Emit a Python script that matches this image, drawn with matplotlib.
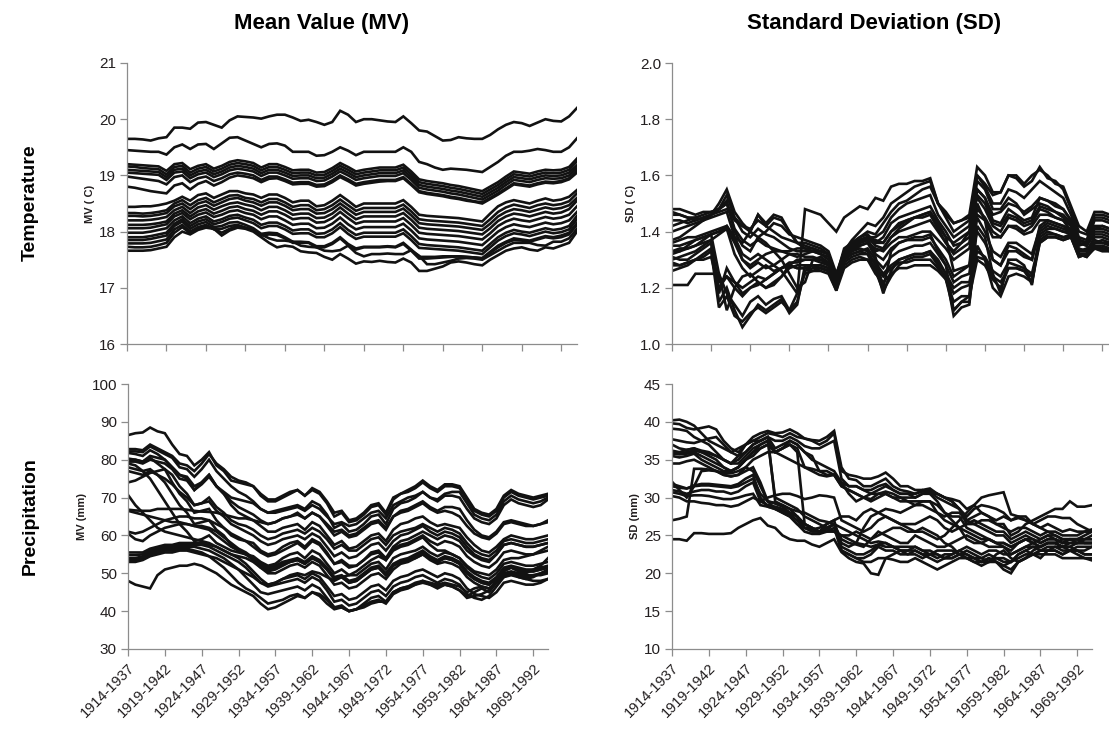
import matplotlib
matplotlib.use("Agg")
import matplotlib.pyplot as plt
import matplotlib.transforms as mtransforms
import numpy as np

plt.rcParams["font.family"] = ["Liberation Sans", "DejaVu Sans"]

# ── data: one list per station, 58 moving 24-year windows (1914-1937 ... 1971-1994) ──

tick_pos = [0, 5, 10, 15, 20, 25, 30, 35, 40, 45, 50, 55]
tick_labels = ["1914-1937", "1919-1942", "1924-1947", "1929-1952", "1934-1957",
               "1939-1962", "1944-1967", "1949-1972", "1954-1977", "1959-1982",
               "1964-1987", "1969-1992"]

# mean temperature (C)
mv_temp = [
    [19.65,19.65,19.64,19.62,19.66,19.68,19.85,19.85,19.83,19.94,19.95,19.9,19.85,19.98,20.05,20.04,20.03,20.01,20.05,20.08,20.08,20.03,19.97,19.99,19.95,19.9,19.95,20.15,20.08,19.95,20.0,20.0,19.98,19.96,19.95,20.05,19.93,19.8,19.78,19.7,19.62,19.63,19.68,19.66,19.65,19.65,19.72,19.82,19.9,19.95,19.93,19.88,19.94,20.0,19.97,19.96,20.05,20.2],
    [19.45,19.44,19.43,19.42,19.42,19.37,19.5,19.55,19.47,19.55,19.56,19.47,19.57,19.67,19.68,19.62,19.56,19.5,19.56,19.57,19.53,19.42,19.42,19.42,19.35,19.36,19.42,19.5,19.44,19.36,19.42,19.42,19.42,19.42,19.42,19.5,19.42,19.24,19.2,19.14,19.1,19.12,19.11,19.1,19.08,19.06,19.15,19.24,19.35,19.42,19.42,19.44,19.47,19.45,19.42,19.42,19.5,19.66],
    [19.2,19.19,19.18,19.17,19.16,19.08,19.2,19.22,19.11,19.17,19.2,19.12,19.17,19.24,19.27,19.25,19.22,19.14,19.2,19.2,19.15,19.09,19.1,19.1,19.05,19.06,19.13,19.22,19.15,19.07,19.1,19.12,19.14,19.14,19.14,19.19,19.07,18.93,18.9,18.88,18.86,18.83,18.81,18.78,18.75,18.72,18.8,18.88,18.98,19.07,19.05,19.03,19.07,19.1,19.09,19.1,19.15,19.3],
    [19.16,19.15,19.13,19.12,19.11,19.02,19.15,19.17,19.05,19.12,19.15,19.07,19.12,19.19,19.22,19.2,19.17,19.09,19.15,19.15,19.1,19.04,19.05,19.05,19.0,19.01,19.08,19.17,19.1,19.02,19.05,19.07,19.09,19.09,19.09,19.14,19.02,18.88,18.85,18.83,18.81,18.78,18.76,18.73,18.7,18.67,18.75,18.83,18.93,19.02,19.0,18.98,19.02,19.05,19.04,19.05,19.1,19.25],
    [19.1,19.09,19.08,19.07,19.06,18.97,19.1,19.12,19.0,19.07,19.1,19.02,19.07,19.14,19.17,19.15,19.12,19.04,19.1,19.1,19.05,18.99,19.0,19.0,18.95,18.96,19.03,19.12,19.05,18.97,19.0,19.02,19.04,19.04,19.04,19.09,18.97,18.83,18.8,18.78,18.76,18.73,18.71,18.68,18.65,18.62,18.7,18.78,18.88,18.97,18.95,18.93,18.97,19.0,18.99,19.0,19.05,19.18],
    [19.05,19.04,19.03,19.02,19.01,18.92,19.05,19.07,18.95,19.02,19.05,18.97,19.02,19.09,19.12,19.1,19.07,18.99,19.05,19.05,19.0,18.94,18.95,18.95,18.9,18.91,18.98,19.07,19.0,18.92,18.95,18.97,18.99,18.99,18.99,19.04,18.92,18.78,18.75,18.73,18.71,18.68,18.66,18.63,18.6,18.57,18.65,18.73,18.83,18.92,18.9,18.88,18.92,18.95,18.94,18.95,19.0,19.13],
    [18.98,18.96,18.94,18.92,18.9,18.84,18.97,19.0,18.88,18.95,18.98,18.9,18.95,19.02,19.05,19.03,19.0,18.92,18.98,18.98,18.93,18.87,18.88,18.88,18.83,18.84,18.91,19.0,18.93,18.85,18.88,18.9,18.92,18.92,18.92,18.97,18.85,18.72,18.69,18.67,18.65,18.62,18.6,18.57,18.54,18.52,18.6,18.68,18.77,18.86,18.84,18.82,18.86,18.89,18.88,18.9,18.95,19.08],
    [18.8,18.78,18.75,18.72,18.7,18.68,18.82,18.86,18.75,18.85,18.9,18.82,18.88,18.96,19.0,18.98,18.95,18.88,18.94,18.95,18.9,18.84,18.85,18.85,18.8,18.81,18.88,18.97,18.9,18.82,18.85,18.87,18.89,18.9,18.9,18.95,18.83,18.7,18.67,18.65,18.63,18.6,18.58,18.55,18.53,18.5,18.58,18.66,18.75,18.84,18.82,18.8,18.84,18.87,18.86,18.88,18.93,19.05],
    [18.44,18.44,18.45,18.45,18.47,18.5,18.55,18.62,18.55,18.65,18.68,18.6,18.66,18.72,18.72,18.68,18.66,18.6,18.66,18.66,18.6,18.52,18.55,18.55,18.45,18.47,18.55,18.65,18.55,18.44,18.5,18.5,18.5,18.5,18.5,18.56,18.44,18.3,18.28,18.27,18.26,18.25,18.24,18.22,18.2,18.18,18.32,18.45,18.52,18.56,18.53,18.5,18.55,18.59,18.55,18.57,18.62,18.74],
    [18.33,18.33,18.32,18.33,18.35,18.38,18.5,18.56,18.47,18.56,18.6,18.52,18.58,18.64,18.65,18.6,18.58,18.52,18.58,18.58,18.52,18.44,18.47,18.47,18.38,18.4,18.47,18.57,18.47,18.37,18.42,18.42,18.42,18.42,18.42,18.48,18.36,18.22,18.2,18.19,18.18,18.17,18.16,18.14,18.12,18.1,18.22,18.35,18.43,18.48,18.45,18.42,18.47,18.5,18.47,18.49,18.54,18.68],
    [18.28,18.28,18.27,18.28,18.3,18.33,18.45,18.5,18.4,18.5,18.54,18.46,18.52,18.58,18.6,18.55,18.52,18.46,18.52,18.52,18.46,18.38,18.4,18.4,18.32,18.33,18.4,18.5,18.4,18.3,18.35,18.35,18.35,18.35,18.35,18.41,18.29,18.15,18.13,18.12,18.11,18.1,18.09,18.07,18.05,18.03,18.14,18.27,18.35,18.4,18.38,18.35,18.39,18.43,18.4,18.42,18.47,18.6],
    [18.2,18.2,18.2,18.21,18.23,18.26,18.38,18.44,18.33,18.43,18.47,18.39,18.45,18.5,18.52,18.48,18.45,18.38,18.44,18.44,18.38,18.3,18.32,18.32,18.24,18.25,18.32,18.43,18.32,18.22,18.27,18.27,18.27,18.27,18.27,18.33,18.21,18.07,18.05,18.04,18.03,18.02,18.01,17.99,17.97,17.95,18.06,18.19,18.27,18.32,18.3,18.27,18.31,18.35,18.32,18.34,18.4,18.55],
    [18.12,18.12,18.12,18.13,18.15,18.18,18.32,18.38,18.27,18.36,18.4,18.32,18.37,18.43,18.45,18.4,18.37,18.3,18.36,18.36,18.3,18.22,18.24,18.24,18.16,18.17,18.24,18.35,18.24,18.14,18.18,18.18,18.18,18.18,18.18,18.24,18.12,17.98,17.96,17.95,17.94,17.93,17.92,17.9,17.88,17.86,17.97,18.1,18.18,18.23,18.2,18.18,18.22,18.26,18.23,18.25,18.3,18.45],
    [18.06,18.06,18.06,18.07,18.1,18.13,18.27,18.33,18.22,18.3,18.34,18.26,18.3,18.36,18.38,18.33,18.3,18.22,18.27,18.27,18.2,18.12,18.14,18.14,18.06,18.07,18.14,18.25,18.13,18.04,18.08,18.08,18.08,18.08,18.08,18.14,18.02,17.88,17.86,17.85,17.84,17.83,17.82,17.8,17.78,17.76,17.88,18.0,18.08,18.13,18.1,18.08,18.12,18.16,18.13,18.15,18.2,18.35],
    [17.98,17.98,17.98,18.0,18.03,18.06,18.2,18.27,18.15,18.23,18.27,18.18,18.22,18.28,18.3,18.25,18.21,18.12,18.16,18.16,18.1,18.02,18.04,18.04,17.96,17.97,18.04,18.15,18.03,17.94,17.98,17.98,17.98,17.98,17.98,18.04,17.92,17.78,17.76,17.75,17.74,17.73,17.72,17.7,17.68,17.66,17.78,17.9,17.98,18.03,18.0,17.98,18.02,18.06,18.03,18.05,18.1,18.28],
    [17.9,17.9,17.9,17.92,17.95,17.98,18.14,18.22,18.1,18.18,18.22,18.13,18.17,18.23,18.25,18.2,18.15,18.06,18.1,18.1,18.04,17.96,17.97,17.97,17.9,17.9,17.97,18.08,17.96,17.87,17.91,17.91,17.91,17.91,17.91,17.97,17.85,17.71,17.7,17.69,17.68,17.67,17.66,17.64,17.62,17.6,17.72,17.84,17.92,17.97,17.95,17.92,17.96,18.0,17.97,17.99,18.04,18.22],
    [17.85,17.85,17.85,17.87,17.9,17.93,18.1,18.18,18.05,18.13,18.17,18.08,18.1,18.16,18.17,18.12,18.06,17.96,17.98,17.97,17.9,17.82,17.82,17.81,17.74,17.74,17.8,17.9,17.78,17.7,17.73,17.73,17.73,17.74,17.73,17.8,17.68,17.55,17.55,17.55,17.56,17.56,17.56,17.55,17.54,17.53,17.64,17.75,17.82,17.88,17.86,17.84,17.88,17.92,17.9,17.93,17.98,18.15],
    [17.79,17.79,17.79,17.8,17.83,17.86,18.04,18.12,18.0,18.08,18.12,18.04,18.05,18.1,18.12,18.07,18.02,17.93,17.95,17.94,17.88,17.8,17.8,17.8,17.72,17.72,17.78,17.88,17.76,17.68,17.72,17.72,17.72,17.73,17.72,17.78,17.66,17.52,17.52,17.53,17.54,17.55,17.56,17.55,17.54,17.52,17.62,17.72,17.8,17.85,17.84,17.82,17.86,17.9,17.88,17.9,17.95,18.12],
    [17.73,17.72,17.72,17.73,17.76,17.8,17.98,18.08,17.97,18.05,18.1,18.05,17.98,18.05,18.1,18.07,18.03,17.95,17.88,17.84,17.84,17.82,17.75,17.73,17.72,17.66,17.65,17.67,17.75,17.62,17.56,17.6,17.6,17.61,17.6,17.6,17.67,17.57,17.42,17.42,17.45,17.48,17.52,17.53,17.52,17.5,17.58,17.66,17.74,17.8,17.8,17.8,17.76,17.75,17.82,17.82,17.88,18.05],
    [17.66,17.66,17.66,17.67,17.7,17.73,17.9,18.0,17.95,18.03,18.07,18.05,17.93,18.02,18.07,18.05,18.0,17.9,17.8,17.72,17.75,17.73,17.65,17.63,17.62,17.55,17.5,17.6,17.52,17.43,17.47,17.46,17.48,17.46,17.45,17.52,17.45,17.3,17.3,17.34,17.38,17.45,17.47,17.45,17.42,17.4,17.5,17.58,17.66,17.7,17.72,17.68,17.66,17.72,17.7,17.75,17.8,18.0],
]

# standard deviation of temperature (C)
sd_temp = [
    [1.48,1.48,1.47,1.46,1.47,1.47,1.48,1.50,1.44,1.42,1.41,1.44,1.42,1.40,1.38,1.37,1.36,1.34,1.33,1.32,1.30,1.22,1.33,1.37,1.40,1.43,1.42,1.45,1.50,1.52,1.54,1.56,1.57,1.58,1.50,1.45,1.40,1.42,1.44,1.60,1.57,1.53,1.54,1.60,1.60,1.57,1.60,1.62,1.60,1.57,1.56,1.49,1.42,1.40,1.47,1.47,1.46,1.45],
    [1.47,1.46,1.45,1.45,1.44,1.46,1.50,1.55,1.47,1.43,1.40,1.46,1.43,1.46,1.45,1.40,1.36,1.36,1.35,1.34,1.32,1.24,1.34,1.36,1.38,1.40,1.39,1.43,1.47,1.50,1.51,1.53,1.55,1.56,1.50,1.47,1.43,1.44,1.46,1.63,1.60,1.54,1.54,1.60,1.59,1.56,1.58,1.63,1.59,1.58,1.55,1.48,1.40,1.39,1.46,1.46,1.45,1.44],
    [1.44,1.44,1.43,1.44,1.45,1.46,1.48,1.51,1.40,1.35,1.33,1.38,1.40,1.43,1.42,1.39,1.38,1.37,1.36,1.35,1.33,1.25,1.33,1.36,1.37,1.38,1.36,1.38,1.43,1.45,1.46,1.47,1.48,1.49,1.44,1.40,1.35,1.36,1.38,1.55,1.52,1.46,1.47,1.50,1.49,1.47,1.49,1.52,1.51,1.49,1.48,1.44,1.37,1.36,1.44,1.44,1.43,1.43],
    [1.37,1.38,1.40,1.42,1.44,1.45,1.46,1.47,1.38,1.32,1.30,1.32,1.30,1.28,1.26,1.22,1.18,1.48,1.47,1.46,1.43,1.40,1.45,1.47,1.49,1.48,1.52,1.51,1.56,1.57,1.57,1.58,1.58,1.59,1.50,1.46,1.43,1.44,1.45,1.52,1.48,1.42,1.40,1.45,1.44,1.42,1.43,1.48,1.47,1.45,1.44,1.40,1.35,1.36,1.41,1.41,1.40,1.40],
    [1.36,1.37,1.38,1.38,1.39,1.40,1.41,1.42,1.37,1.30,1.27,1.29,1.27,1.28,1.30,1.32,1.31,1.32,1.33,1.33,1.32,1.23,1.32,1.35,1.36,1.37,1.33,1.34,1.38,1.40,1.41,1.42,1.43,1.44,1.40,1.36,1.33,1.36,1.40,1.58,1.55,1.48,1.48,1.52,1.50,1.46,1.48,1.50,1.49,1.47,1.45,1.42,1.36,1.35,1.40,1.40,1.39,1.38],
    [1.33,1.33,1.34,1.35,1.37,1.39,1.25,1.18,1.14,1.10,1.15,1.17,1.14,1.16,1.17,1.12,1.15,1.26,1.27,1.27,1.26,1.20,1.30,1.34,1.35,1.36,1.31,1.20,1.33,1.36,1.37,1.38,1.38,1.39,1.33,1.28,1.12,1.15,1.17,1.50,1.44,1.30,1.28,1.35,1.34,1.32,1.30,1.42,1.44,1.43,1.42,1.40,1.33,1.33,1.36,1.37,1.36,1.36],
    [1.31,1.30,1.30,1.32,1.34,1.36,1.15,1.20,1.12,1.06,1.10,1.14,1.12,1.14,1.16,1.11,1.14,1.28,1.28,1.28,1.27,1.21,1.31,1.33,1.34,1.33,1.28,1.18,1.26,1.30,1.31,1.32,1.32,1.33,1.30,1.25,1.10,1.13,1.14,1.42,1.38,1.25,1.18,1.30,1.30,1.28,1.21,1.39,1.41,1.41,1.40,1.39,1.32,1.31,1.35,1.35,1.34,1.34],
    [1.29,1.28,1.29,1.30,1.31,1.33,1.13,1.17,1.10,1.08,1.11,1.13,1.11,1.13,1.15,1.12,1.18,1.25,1.26,1.27,1.26,1.19,1.30,1.32,1.33,1.32,1.26,1.19,1.24,1.28,1.30,1.31,1.31,1.32,1.28,1.23,1.12,1.15,1.15,1.35,1.30,1.20,1.17,1.24,1.25,1.24,1.22,1.38,1.40,1.39,1.38,1.38,1.31,1.32,1.34,1.34,1.33,1.33],
    [1.21,1.21,1.21,1.25,1.25,1.25,1.25,1.12,1.20,1.24,1.25,1.22,1.20,1.21,1.24,1.28,1.27,1.27,1.28,1.28,1.27,1.20,1.28,1.30,1.31,1.30,1.25,1.22,1.25,1.27,1.27,1.28,1.28,1.28,1.26,1.23,1.15,1.17,1.17,1.30,1.28,1.23,1.20,1.27,1.27,1.26,1.22,1.36,1.38,1.38,1.37,1.38,1.32,1.31,1.34,1.33,1.33,1.33],
    [1.30,1.31,1.32,1.33,1.35,1.37,1.39,1.41,1.36,1.30,1.28,1.30,1.32,1.33,1.33,1.32,1.32,1.31,1.31,1.30,1.29,1.22,1.30,1.33,1.35,1.36,1.34,1.33,1.36,1.38,1.38,1.39,1.40,1.40,1.37,1.34,1.30,1.32,1.34,1.46,1.44,1.38,1.38,1.42,1.41,1.39,1.40,1.44,1.44,1.43,1.42,1.41,1.34,1.33,1.38,1.38,1.37,1.37],
    [1.35,1.35,1.36,1.37,1.38,1.39,1.40,1.41,1.32,1.27,1.24,1.26,1.28,1.26,1.27,1.28,1.30,1.30,1.30,1.29,1.28,1.22,1.31,1.34,1.36,1.37,1.32,1.30,1.34,1.36,1.37,1.37,1.37,1.38,1.34,1.30,1.24,1.26,1.28,1.40,1.36,1.30,1.28,1.33,1.33,1.31,1.30,1.40,1.42,1.41,1.40,1.40,1.33,1.34,1.36,1.36,1.35,1.35],
    [1.26,1.27,1.28,1.30,1.32,1.34,1.22,1.24,1.20,1.17,1.20,1.22,1.20,1.22,1.24,1.27,1.28,1.28,1.28,1.27,1.26,1.21,1.29,1.31,1.32,1.32,1.29,1.25,1.28,1.30,1.31,1.32,1.32,1.33,1.29,1.25,1.20,1.22,1.22,1.33,1.31,1.26,1.24,1.29,1.28,1.27,1.25,1.37,1.39,1.39,1.38,1.39,1.32,1.32,1.35,1.34,1.34,1.34],
    [1.46,1.46,1.45,1.44,1.45,1.46,1.47,1.48,1.45,1.42,1.40,1.38,1.36,1.33,1.30,1.25,1.20,1.22,1.30,1.31,1.29,1.23,1.32,1.35,1.37,1.38,1.35,1.34,1.38,1.41,1.43,1.45,1.46,1.47,1.42,1.38,1.36,1.38,1.40,1.48,1.45,1.40,1.38,1.42,1.42,1.40,1.42,1.46,1.46,1.45,1.44,1.42,1.36,1.35,1.39,1.39,1.38,1.38],
    [1.32,1.33,1.35,1.37,1.38,1.39,1.40,1.42,1.38,1.36,1.40,1.46,1.42,1.45,1.44,1.40,1.36,1.35,1.34,1.33,1.32,1.23,1.32,1.35,1.37,1.38,1.37,1.36,1.40,1.43,1.44,1.45,1.46,1.47,1.43,1.38,1.26,1.27,1.28,1.55,1.52,1.44,1.43,1.48,1.46,1.44,1.45,1.52,1.51,1.50,1.48,1.44,1.37,1.36,1.41,1.42,1.41,1.41],
    [1.28,1.28,1.29,1.30,1.30,1.31,1.20,1.24,1.22,1.18,1.20,1.21,1.23,1.25,1.27,1.28,1.27,1.27,1.26,1.26,1.25,1.19,1.27,1.29,1.30,1.30,1.27,1.24,1.27,1.29,1.29,1.30,1.30,1.30,1.27,1.24,1.18,1.20,1.21,1.31,1.30,1.24,1.22,1.27,1.27,1.26,1.24,1.36,1.38,1.38,1.37,1.38,1.31,1.32,1.34,1.34,1.33,1.33],
    [1.40,1.41,1.42,1.43,1.44,1.46,1.48,1.53,1.45,1.40,1.38,1.41,1.39,1.38,1.36,1.34,1.33,1.33,1.33,1.32,1.31,1.21,1.31,1.34,1.36,1.38,1.38,1.40,1.45,1.48,1.50,1.51,1.52,1.53,1.46,1.42,1.38,1.40,1.42,1.60,1.56,1.50,1.50,1.55,1.54,1.52,1.55,1.58,1.56,1.54,1.52,1.46,1.38,1.37,1.45,1.45,1.44,1.43],
    [1.33,1.34,1.34,1.35,1.36,1.37,1.18,1.27,1.22,1.20,1.22,1.24,1.23,1.25,1.27,1.29,1.29,1.30,1.30,1.30,1.28,1.22,1.30,1.32,1.33,1.34,1.30,1.27,1.31,1.33,1.34,1.35,1.35,1.36,1.32,1.28,1.22,1.24,1.25,1.45,1.40,1.33,1.31,1.36,1.36,1.34,1.32,1.41,1.43,1.42,1.41,1.40,1.33,1.33,1.37,1.36,1.36,1.35],
    [1.42,1.43,1.44,1.45,1.46,1.47,1.48,1.50,1.41,1.37,1.35,1.37,1.35,1.34,1.33,1.33,1.34,1.34,1.34,1.33,1.32,1.24,1.33,1.36,1.38,1.39,1.36,1.36,1.40,1.42,1.44,1.45,1.45,1.46,1.41,1.36,1.32,1.34,1.36,1.53,1.50,1.43,1.42,1.46,1.45,1.43,1.44,1.49,1.48,1.47,1.46,1.43,1.37,1.36,1.42,1.42,1.41,1.40],
]

# mean precipitation (mm)
mv_prec = [
    [86.5,87,87.2,88.5,87.5,87,84,81.5,81,78.5,80,82,78.5,77,74.5,74,73.5,73,71,69.5,69.5,70.5,71.5,72,70.5,72.5,71.5,69,66,66.5,64,64.5,66,68,68.5,66,70,71,72,73,74.5,73,72,73.5,73.5,73,70,67,66,65.5,67,70.5,72,71,70.5,70,70.5,71],
    [82.8,82.8,82.5,84,83,82,81,79,78.5,77,79,81.5,79,77.5,75.5,74.5,74,73,70.5,69,69,70,71,72,70.5,72,71,68.5,65,66,63.5,64,65.5,67.5,68,65.5,69.5,71,71.5,72.5,74,72.5,71.5,73,73,72.5,69.5,66.5,65.5,65,66.5,70,71.5,70.5,70,69.5,70,70.5],
    [82.2,82.2,82,83.5,82.5,81.5,80.5,78,77.5,75.5,77.5,80,77,75,73,71.5,70.5,69,67,66,66.5,67,67.5,68,67,69,68,65.5,62,63,61,61.5,63,65,65.5,63,67,68.5,69,70,71.5,70,69,70.5,70.5,70,67,64.5,63.5,63,64.5,68,69.5,68.5,68,67.5,68,69.5],
    [81.8,81.5,81,82.5,81.5,80,78,76,75,72,74,76,73,71,69,67.5,66.5,65.5,64,63,63.5,64.5,65,66,64.5,66,65,62.5,60,61,59.5,60,61.5,63,63.5,61.5,65,66.5,67,68,69,67.5,66.5,67.5,67.5,67,64,61.5,60,59.5,61,63.5,64,63.5,63,62.5,63,64],
    [80.3,80,79.5,80.5,79,77.5,74,71,69,66,66.5,67,64,62,60,59,58.5,58,56,55,55.5,57,58,58.5,57,59,58,55.5,52.5,53.5,52,52,53.5,55.5,56,54,57,58.5,59,60,61,60,59,60,59.5,58.5,56,54.5,53.5,53,55,57.5,58,57.5,57,57,57.5,58],
    [80,80,79.5,81,80.5,80,78,76,75.5,73,74,76,73,71,68,66,65,64,62.5,61,61,62,62.5,63,61.5,63.5,62.5,60,57.5,58.5,56.5,57,58.5,60,60.5,58.5,61.5,63,63.5,64.5,65,63.5,62.5,63,62.5,62,59.5,57.5,56,55.5,57,59,60,59.5,59,59,59.5,60],
    [79.5,79.5,79,80,79.5,79,77.5,75,74.5,72,73.5,75.5,73,71.5,70,69.5,69,68.5,67,66,66,66.5,67,67.5,66.5,68,67,65,63,63.5,62.5,63,64.5,66,66.5,64.5,68,69,70,70.5,71.5,70,69.5,71,71.5,71.5,68.5,65.5,64.5,64,65.5,69,70.5,69.5,69,68.5,69,70],
    [79,78.5,77,75,72,69,66,63,61,58.5,59,60,58,57,56,55.5,55,54.5,53,52,52.5,54,55,55.5,54,56,55,52.5,50,51,49.5,49.5,51,52.5,53,51,54,55,55.5,56,57,55.5,54.5,55.5,55,54,51.5,50,49,48.5,50,52.5,53,52.5,52,52,52.5,53],
    [78,77.5,77,77.5,76,74,71,68,66,63,63.5,64,61.5,60,57.5,56,55,53.5,51.5,50,50,51,52,52.5,51.5,53,52,49.5,47,47.5,46,46.5,48,49.5,50,48.5,51,52.5,53,54,55,53.5,52.5,53,52.5,51.5,49,47.5,46.5,46,47.5,50,50.5,50,49.5,49.5,49.5,50],
    [77,76.5,76,77,76,75,73.5,71.5,70,68,68.5,70,67.5,66,64,63,62.5,61.5,60,59,59.5,60.5,61,61.5,60.5,62,61,59,56.5,57.5,56,56,57.5,59,59.5,57.5,60,61,61.5,62,63,62,61,62,61.5,60.5,58,56,55,54.5,56,58.5,59,58.5,58,58,58.5,59],
    [74,74.5,75.5,76.5,77,77.5,76,73,71,68,68.5,69,66.5,65,63,62,61,60,58.5,57.5,58,59,59.5,60,59,60.5,59.5,57,54.5,55.5,54,54.5,56,57.5,58,56,58.5,60,60.5,61.5,62.5,61,60,61,60.5,59.5,57,55,54,53.5,55,57.5,58,57.5,57,57,57.5,58],
    [70.7,68,66,64,62,61,60.5,60,59.5,59,58.5,58,57,56,55,54.5,54,53,51.5,50.5,51,52,53,53.5,52.5,54,53,51,48.5,49,47.5,48,49.5,51,51.5,49.5,52,53,53.5,54,55,54,53,54,53.5,52.5,50,48.5,47.5,47,48.5,51,51.5,51,50.5,50.5,51,51.5],
    [66.8,66.6,66.5,66.5,67,67,67,67,66.8,66.5,66.3,66.2,66,65.5,65,64.5,64.5,64,63.5,63,63.5,64.5,65,65.5,64.5,66,65,63,61,61.5,60,60.5,62,63.5,64,62,65,66,66.5,67.5,68.5,67,66,66.5,66,65,62.5,60.5,59.5,59,60.5,63,63.5,63,62.5,62.5,63,63.5],
    [66.5,66,65.5,65,64.5,64,63.5,63.5,63,62.5,62,61.5,60,58.5,57,56,55,54,52.5,51.5,52,53,53.5,54,53,54.5,53.5,51.5,49,49.5,48,48.5,50,51.5,52,50,52.5,53.5,54,55,56,54.5,53.5,54.5,54,53,50.5,49,48,47.5,49,51.5,52,51.5,51,51,51.5,52],
    [61,60.5,61,62,63,64,64.5,65,65,64.5,64.5,64,63,62,60.5,59.5,58.5,57,55.5,54.5,55,56,57,58,56.5,58.5,57.5,55,52.5,53,51.5,52,53.5,55,55.5,53.5,56.5,57.5,58,59,60,58.5,57.5,58.5,58,57,54.5,53,52,51.5,53,55.5,56,55.5,55,55,55.5,56],
    [60.5,59,58.5,60,61,62,62.5,63,63,62.5,62.5,62,61,59.5,58,56.5,55.5,54,52,51,51.5,52.5,53,53.5,52.5,54,53,51,48.5,49,47.5,48,49.5,51,51.5,49.5,52,53,53.5,54.5,55.5,54,53,54,53.5,52.5,50,48.5,47.5,47,48.5,51,51.5,51,50.5,50.5,51,51.5],
    [55.5,55.5,55.5,56.5,57,57.5,57.5,58,58,58,58,57.5,57,56,55,54,52.5,50.5,48.5,47,47.5,48.5,49,49.5,48.5,50,49,46.5,44,44.5,43,43.5,45,46.5,47,45.5,48,49,49.5,50.5,51,50,49,50,49.5,48.5,46,44.5,44,43.5,45,47.5,48,47.5,47,47,47.5,48.5],
    [54.8,54.8,55,56,56.5,57,57,57.5,57.5,57.5,57.5,57,56,55,54,53,51.5,49.5,47.5,46.5,47,47.5,48,48.5,47.5,49,48,45.5,42.5,43,41.5,42,43.5,45,45.5,44,46.5,47.5,48,49,49.5,48.5,47.5,48.5,48,47,44.5,43.5,43,44,46.5,49,50,49,48.5,49,50,51],
    [54,54,54.5,55.5,56,56.5,56.5,57,57,57,56.5,56,55,54,52.5,51,49,47,45,44.5,45,45.5,46,46.5,45.5,47,46,43.5,41,41.5,40,40.5,42,43.5,44,42.5,45,46,46.5,47.5,48,47,46,47,46.5,45.5,43.5,44,44.5,45.5,48,50.5,51.5,50.5,50,51,52,54],
    [53.5,53.5,54,55,55.5,56,56,56.5,56.5,56,55.5,54.5,53,51.5,49.5,47.5,46,45,43.5,42,42.5,43,44,44.5,43.5,45,44,42,40.5,41,40,40.5,41.5,42.5,43,42,44.5,45.5,46,47,47.5,47,46.5,47,46.5,45.5,44,45,46,45,47.5,49.5,50,49.5,49,49.5,50,50.5],
    [53,53,53.5,54.5,55,55.5,55.5,56,56,55.5,55,54.5,54,53,52,51,50,49,47.5,47,47.5,48.5,49.5,50,49.5,50.5,50,49,48,49,49.5,50.5,52,53.5,54.5,53.5,56,57,57.5,58.5,59.5,57.5,56,56,55,54,52,50.5,50,49.5,51,53.5,54,54,54.5,55,56,57],
    [48,47,46.5,46,49.5,51,51.5,52,52,52.5,52,51,50,48.5,47,46,45,44,42,40.5,41,42,43,44,43.5,45,44.5,43,41,41,40,40.5,41,42,42.5,42.5,45,46,46.5,47,48,47.5,47,47.5,47,46.5,45,46,46.5,46,47.5,49,49.5,49,48.5,48,48,48.5],
]

# standard deviation of precipitation (mm)
sd_prec = [
    [40.2,40.3,40,39.5,38.5,37.5,37,36.5,36,36.5,37,37.5,38,38.5,38.3,38,38.5,38,37.8,37.5,37,37.5,38.5,33.5,33,32.8,32.5,32.5,32.8,33.3,32.5,31.5,31.5,31,31,30.5,30.5,30,29.5,28.5,27.5,28.5,29,28.8,28.5,28,27,27.5,27.5,26.5,26,25.5,25.5,25,25,25,25.5,25.5],
    [39.8,39.7,39.2,39,39.2,39.4,39,37.5,36.5,36,37,38,38.5,38.8,38.5,38.6,39,38.5,37.8,37.6,37.5,38,38.8,34,32.5,32.3,31.5,31.5,32,32.5,31.5,31,30.8,30.5,31,31.2,30.5,30,29.8,29.5,28.5,29,28,27.5,27,27.5,27,27.3,27,26.5,26,26.5,26,25.5,25.8,25.5,25.5,25.8],
    [39.1,39,38.8,38,37.5,37,36,35,34.5,35.5,37,37.5,37.5,38,37.5,37.5,38,37.5,36.8,36.5,36.5,37,37.5,32.5,31.5,31.5,31,30.5,31,31.5,31,30.5,30.5,30,30.5,30.8,30,29.5,29,28.5,26.5,27,26.5,26,25.5,25.5,24.5,25,25.5,25,24.5,25,24.5,24,24.5,24.5,24.5,25],
    [37.7,37.5,37.3,37.2,37.5,37.8,38,37,36,35.5,36,37,37.5,38,36.5,37,37.5,37,36,35.5,33.5,33,33,32,31.5,31.5,31,31,31.5,31.8,31,30.5,30.5,30.5,30.8,31,30.5,30,29.5,28.5,27,27.5,28,27.5,26.5,26,25.5,26,26,25.5,25,25.5,25,24.5,24.5,24.5,25,25.5],
    [37,36.5,36.3,36.5,36,35.5,35,34,33.5,34,35,36,36.5,37,36,36.5,37.5,37,36,35,34.5,34,33.5,32,30.5,29.5,30,30.5,30.5,30.5,30,29.5,29.5,29.5,29.5,29.5,28,27,26.5,26,24.5,24,24,23.5,23.5,23.5,22.5,23,23.5,23.5,23,23.5,23.5,23.5,23,23.5,23.5,23.5],
    [36.2,36,36.3,36.5,36.2,36,35.5,35,34.5,34.5,35.5,36.5,37,37.5,36,36.5,37,36.5,34,33.5,33,32.8,33,31.5,31,30.5,30,29.8,30.5,30.8,30.5,30,30,30,30.5,30.5,29.5,28,27.5,27.5,26,25.5,25,24.5,24,24,23.5,24,24.5,24,23.5,24,24,23.5,24,24,24,24],
    [36,35.8,36,36.2,36,35.8,35.5,35,34.5,35,36,37,37.5,38,29.5,29,28.5,28.2,28,27.5,27,26.8,26.5,26,25.5,25,24.5,24,24.2,24,23.5,23.5,23.5,23.5,23,23,22.5,22,22.5,23,22.5,22,22,21.5,22,22,21.5,22.5,23,22.5,22,23,23,22.5,23,23,22.5,22.5],
    [35.8,35.7,35.8,36,35.5,35,34.5,34,33.5,34,35,36,37,37.5,30,29.5,29,28.5,27.5,27,26.5,26,25.5,25,25,25.5,25,24.5,25,25.5,26,26,25.5,25.5,26,25.5,25,24,23.5,22.5,22,22,21.5,21.5,22.5,23,22,21.5,22,23,23.5,24,24,23.5,23.5,24,24,24],
    [35.5,35.3,35.5,35.8,35,34.5,34,33.5,33.5,34,35,35.5,36.5,37,36,36.5,37,36,26.5,26,25.5,25.5,25.5,25,24.5,24,23.8,23.5,23.8,24,23.5,23,23,23,22.5,22.5,22.5,22,22,22.5,22,21.5,21.5,22,21.5,21,21.5,22,22.5,22.5,23,23,23,22.5,23,23,23,23.5],
    [34.5,34.5,34.8,35,34.5,34,33.5,33,32.8,33,34,35,35.5,36,36,35.5,35,34.5,34,33.8,33.5,33.5,33,31.5,31,30.5,30,29.5,30,30.5,30,30,29.5,29,29,28.5,28,27.5,28,28,27,26.5,26,25.5,25,25,24,24.5,25,24.5,24,24.5,24.5,24,24.5,24.5,24.5,24.5],
    [32.1,31,30,31.5,33.5,33.6,33.5,33.3,33.2,33.5,34,33.5,31.5,29.5,29.2,28.8,28,27.5,26.5,26,25.5,26.5,27,23.5,23,22.5,22.5,23,23.8,23.5,23.5,23,23,23.5,23,22.5,22,22.5,22.5,23,23.5,23,22.5,23,23,22.5,22.5,23,23.5,24,24.5,25,25,24.5,24.5,24.5,24,24],
    [31.5,31.3,31.2,31.5,31.6,31.6,31.5,31.4,31.3,31.5,32,32.5,30.5,29.5,29.3,29,28.5,27.5,26,25.8,25.5,26,26.5,23,22.5,22,22,22.5,23.5,23,23,22.5,22.5,23,22.5,22,21.5,22,22,22.5,23,22.5,22,22.5,22,21.5,21.5,22.5,23,23.5,23.5,24,24,23.5,23.5,23,22.5,22.5],
    [31,30.8,30.5,30.8,31,31,30.8,30.8,30.5,30.8,31.5,32,29.5,29,28.8,28.5,28,27.5,26.5,26,25.5,25.8,26.5,24.5,24,23.8,23.5,24.5,25.5,25,24.5,24,24,25,24.5,24,23.5,23.5,24,24.5,25,24.5,24,24.5,24,23.5,23,24,24.5,24,23.5,24,24,24.5,24.5,24,24,24],
    [30.7,30.5,30.2,30.3,30.3,30.2,30,29.8,29.8,30,30.3,30.5,29,28.8,28.5,28,27.5,26.5,25.5,25.2,25.2,25.5,26,23,22.5,22,21.5,21.5,22,22,21.8,21.5,21.5,22,21.5,21,20.5,21,21.5,22,22,21.5,21,21.5,21.5,21,20.5,21.5,22,22.5,23,23,23.5,23,23,22.5,22,21.7],
    [30.2,30,29.5,29.5,29.3,29.2,29,29,28.8,29,29.5,30,29.5,30,30.3,30.5,30.5,30.2,29.8,30,30.3,30.2,30,27,26.5,26,25.5,26,27,27.5,27,26.5,26,25.5,25.5,25,24.5,25,26,27,28,29,30,30.3,30.5,30.7,27.8,27.5,27,26.5,27,27.5,27.5,27.3,27.3,26.5,26,25.5],
    [27,27.2,27.5,33.8,33.8,33.7,33.5,33,32.8,33,33.5,34,32,29.5,28.5,28,27.5,26.5,26,25.8,26,26.5,27,27.5,27.5,27,28,28.5,28,27.5,27,26.5,26.5,26.5,27,27.5,27,26,25.5,26,26.5,26.5,27,27,26.5,26.5,25,25.5,26.5,27,27.5,28,28.5,28.5,29.5,28.8,28.8,29],
    [24.5,24.5,24.3,25.3,25.3,25.2,25.2,25.2,25.3,26,26.5,27,27.3,26.3,26,25,24.5,24.3,24.3,23.8,23.5,24,24.5,22.8,22,21.5,21.3,20,19.8,22,22.5,23,22.5,22.5,22,22.5,23,23,23,22.5,22.5,22,21.5,22,21.5,20.5,20,21.5,22,22.5,22.5,22.5,22.5,22,22,22,22,22],
    [31.8,31.5,31.2,31.6,31.8,31.8,31.7,31.6,31.5,31.8,32.5,33,30,28.8,28.5,28.3,27.8,27,26,25.5,25.5,26,26.5,24,23.5,24,26,27.5,28,28.5,28.3,28,28.5,29,29.5,29.5,29,28,27,26,25.5,25,24.5,24.5,24,24,23.5,24,24.5,24.5,24,24.5,24.5,24,24,24,24.5,24.5],
]

# ── layout (pixel boxes of the four plot areas in the 1109x729 picture) ──
W, H = 1109, 729
panels = [
    # data, (left, top, right, bottom), ylim, yticks, tick fmt, ylabel, show x labels
    (mv_temp, (127, 63, 577, 344), (16, 21), np.arange(16, 22, 1), "{:.0f}", "MV ( C)", False),
    (sd_temp, (672, 63, 1118, 344), (1.0, 2.0), np.arange(1.0, 2.01, 0.2), "{:.1f}", "SD ( C)", False),
    (mv_prec, (128, 384, 548, 649), (30, 100), np.arange(30, 101, 10), "{:.0f}", "MV (mm)", True),
    (sd_prec, (672, 384, 1092, 649), (10, 45), np.arange(10, 46, 5), "{:.0f}", "SD (mm)", True),
]

fig = plt.figure(figsize=(W / 100, H / 100), dpi=100)
axis_grey = "#8c8c8c"
text_col = "#231f20"
# nudge the slanted year labels a little right/down, as in the original
label_shift = mtransforms.ScaledTranslation(8 / 100, -4 / 100, fig.dpi_scale_trans)

for data, (l, t, r, b), ylim, yticks, fmt, ylab, show_x in panels:
    ax = fig.add_axes([l / W, 1 - b / H, (r - l) / W, (b - t) / H])
    x = np.arange(len(data[0]))
    for series in data:
        ax.plot(x, series, color="#121212", lw=1.9, solid_joinstyle="miter")

    ax.set_xlim(0, len(x) - 1)
    ax.set_ylim(*ylim)
    ax.set_yticks(yticks)
    ax.set_yticklabels([fmt.format(v) for v in yticks])
    ax.set_xticks(tick_pos)
    if show_x:
        ax.set_xticklabels(tick_labels, rotation=45, ha="right",
                           rotation_mode="anchor", fontsize=10.5, color=text_col)
        for lab in ax.get_xticklabels():
            lab.set_transform(lab.get_transform() + label_shift)
    else:
        ax.set_xticklabels([])

    for side in ("top", "right"):
        ax.spines[side].set_visible(False)
    for side in ("left", "bottom"):
        ax.spines[side].set_color(axis_grey)
        ax.spines[side].set_linewidth(0.9)
    ax.tick_params(axis="both", colors=axis_grey, length=5, width=0.9,
                   labelcolor=text_col)
    ax.tick_params(axis="y", labelsize=11, pad=3)
    ax.set_ylabel(ylab, fontsize=8, fontweight="bold", color=text_col, labelpad=3)

# column titles and row labels
fig.text(322 / W, 1 - 24 / H, "Mean Value (MV)", ha="center", va="center",
         fontsize=16, fontweight="bold")
fig.text(874 / W, 1 - 24 / H, "Standard Deviation (SD)", ha="center", va="center",
         fontsize=16, fontweight="bold")
fig.text(30 / W, 1 - 203 / H, "Temperature", ha="center", va="center",
         rotation=90, fontsize=14, fontweight="bold")
fig.text(30 / W, 1 - 516 / H, "Precipitation", ha="center", va="center",
         rotation=90, fontsize=14, fontweight="bold")

fig.savefig("out.png", dpi=100)
